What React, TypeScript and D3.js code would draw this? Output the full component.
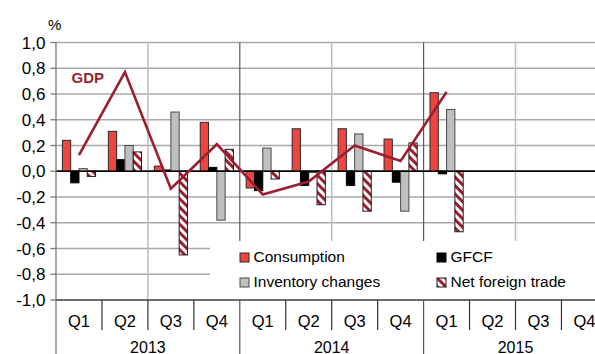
import { line, scaleBand, scaleLinear } from "d3";

const years = ["2013", "2014", "2015"];
const quarterNames = ["Q1", "Q2", "Q3", "Q4"];
const yTicks = [1, 0.8, 0.6, 0.4, 0.2, 0, -0.2, -0.4, -0.6, -0.8, -1];

const consumption = [0.24, 0.31, 0.04, 0.38, -0.13, 0.33, 0.33, 0.25, 0.61];
const gfcf = [-0.09, 0.09, 0.01, 0.03, -0.15, -0.11, -0.11, -0.085, -0.02];
const inventory = [0.02, 0.2, 0.46, -0.38, 0.18, -0.01, 0.29, -0.31, 0.48];
const netTrade = [-0.04, 0.15, -0.65, 0.17, -0.06, -0.26, -0.31, 0.22, -0.47];
const gdp = [0.125, 0.77, -0.135, 0.21, -0.18, -0.08, 0.2, 0.08, 0.615];

const seriesNames = ["Consumption", "GFCF", "Inventory changes", "Net foreign trade"];

const RED = "#ef4541";
const GREY = "#bfbfbf";
const WINE = "#9a1f30";
const FONT = "'Liberation Sans', Arial, sans-serif";

export default function App() {
  const width = 595;
  const height = 354;
  const left = 56;
  const top = 42.5;
  const bottom = 300;
  const qw = 45.95;
  const legendTop = 241;

  const keys = years.flatMap((y) => quarterNames.map((q) => `${y}-${q}`));
  const x = scaleBand<string>().domain(keys).range([left, left + qw * keys.length]);
  const inner = scaleBand<string>().domain(seriesNames).range([0, x.bandwidth()]).paddingOuter(0.77);
  const y = scaleLinear().domain([-1, 1]).range([bottom, top]);

  const series = [
    { name: "Consumption", values: consumption, fill: RED, stroke: "#2a2a2a" },
    { name: "GFCF", values: gfcf, fill: "#000", stroke: "#000" },
    { name: "Inventory changes", values: inventory, fill: GREY, stroke: "#4a4a4a" },
    { name: "Net foreign trade", values: netTrade, fill: "url(#hatch)", stroke: "#1a1a1a" },
  ];

  const gdpPath =
    line<number>()
      .x((_, i) => (x(keys[i]) ?? 0) + x.bandwidth() / 2)
      .y((d) => y(d))(gdp) ?? "";

  const fmt = (v: number) => (v < 0 ? "-" : "") + Math.abs(v).toFixed(1).replace(".", ",");

  const legendItems = [
    { name: "Consumption", fill: RED, stroke: "#2a2a2a", lx: 240, ly: 253 },
    { name: "GFCF", fill: "#000", stroke: "#000", lx: 437, ly: 253 },
    { name: "Inventory changes", fill: GREY, stroke: "#4a4a4a", lx: 240, ly: 278 },
    { name: "Net foreign trade", fill: "url(#hatch)", stroke: "#1a1a1a", lx: 437, ly: 278 },
  ];

  return (
    <svg
      width={width}
      height={height}
      style={{ position: "absolute", left: 0, top: 0, background: "#fff", fontFamily: FONT }}
    >
      <defs>
        <pattern id="hatch" patternUnits="userSpaceOnUse" width={6} height={6} patternTransform="rotate(45)">
          <rect width={6} height={6} fill="#fff" />
          <rect width={6} height={3} fill={WINE} />
        </pattern>
      </defs>

      {/* horizontal grid */}
      {yTicks.map((t) => (
        <line
          key={t}
          x1={left}
          x2={t <= -0.6 && t > -1 ? 210 : width}
          y1={y(t)}
          y2={y(t)}
          stroke={t === 0 ? "#000" : "#a8a8a8"}
          strokeWidth={1.3}
        />
      ))}

      {/* vertical grid, every half year */}
      {keys.map((k, i) => {
        if (i === 0 || i % 2 !== 0) return null;
        const xv = x(k) ?? 0;
        const isYear = i % 4 === 0;
        return (
          <line
            key={k}
            x1={xv}
            x2={xv}
            y1={top}
            y2={xv > 210 ? legendTop : bottom}
            stroke={isYear ? "#5a5a5a" : "#bdbdbd"}
            strokeWidth={isYear ? 1.2 : 1.5}
          />
        );
      })}

      {/* bars */}
      {series.map((s) =>
        s.values.map((v, i) => {
          const bx = (x(keys[i]) ?? 0) + (inner(s.name) ?? 0);
          const y0 = y(0);
          const yv = y(v);
          return (
            <rect
              key={`${s.name}-${i}`}
              x={bx}
              y={Math.min(y0, yv)}
              width={inner.bandwidth()}
              height={Math.max(1, Math.abs(yv - y0))}
              fill={s.fill}
              stroke={s.stroke}
              strokeWidth={1}
            />
          );
        })
      )}

      <line x1={left} x2={width} y1={y(0)} y2={y(0)} stroke="#000" strokeWidth={1.3} />

      {/* GDP line */}
      <path d={gdpPath} fill="none" stroke={WINE} strokeWidth={2.6} strokeLinejoin="miter" />
      <text x={71.5} y={82.5} fontSize={15} fontWeight="bold" fill={WINE}>
        GDP
      </text>

      {/* legend */}
      {legendItems.map((it) => (
        <g key={it.name}>
          <rect x={it.lx} y={it.ly} width={9} height={9} fill={it.fill} stroke={it.stroke} strokeWidth={1} />
          <text x={it.lx + 13.5} y={it.ly + 9} fontSize={15.5} fill="#000">
            {it.name}
          </text>
        </g>
      ))}

      {/* y axis */}
      <line x1={left} x2={left} y1={top} y2={height} stroke="#7a7a7a" strokeWidth={1.3} />
      {yTicks.map((t) => (
        <g key={`t${t}`}>
          <line x1={left - 5.5} x2={left} y1={y(t)} y2={y(t)} stroke="#7a7a7a" strokeWidth={1.3} />
          <text x={45.5} y={y(t)} dy="0.36em" textAnchor="end" fontSize={17} fill="#000">
            {fmt(t)}
          </text>
        </g>
      ))}
      <text x={48} y={30} fontSize={15} fill="#000">
        %
      </text>

      {/* category axis */}
      <line x1={left} x2={width} y1={bottom} y2={bottom} stroke="#555" strokeWidth={1.3} />
      {keys.map((k, i) => {
        const xv = x(k) ?? 0;
        const isYear = i % 4 === 0;
        return (
          <g key={`c${k}`}>
            {i > 0 && (
              <line x1={xv} x2={xv} y1={bottom} y2={isYear ? height : 330} stroke={isYear ? "#555" : "#333"} strokeWidth={1.2} />
            )}
            <text x={xv + x.bandwidth() / 2} y={326.5} textAnchor="middle" fontSize={16.5} fill="#000">
              {quarterNames[i % 4]}
            </text>
          </g>
        );
      })}
      {years.map((yr, i) => (
        <text key={yr} x={left + qw * 4 * i + qw * 2} y={352.5} textAnchor="middle" fontSize={16} fill="#000">
          {yr}
        </text>
      ))}
    </svg>
  );
}
